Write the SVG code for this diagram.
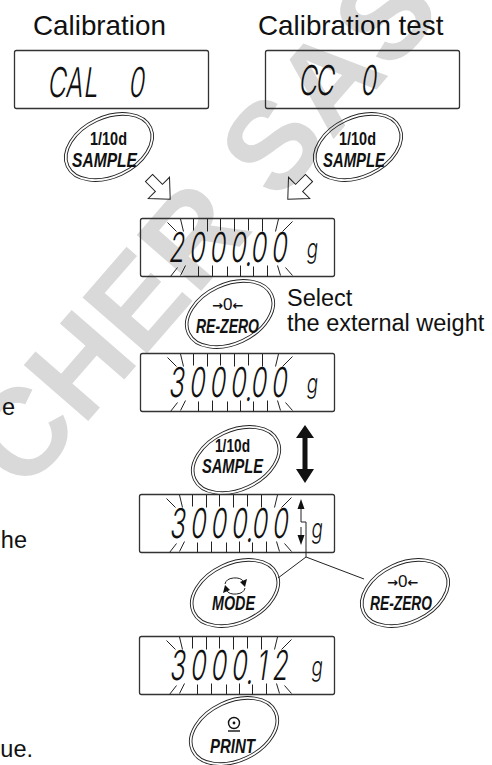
<svg xmlns="http://www.w3.org/2000/svg" xmlns:xlink="http://www.w3.org/1999/xlink" width="492" height="765" viewBox="0 0 492 765">
<style>
.wm{font-family:"Liberation Sans",Arial,sans-serif;font-weight:bold;font-size:124px;fill:#d9d9d9}
.title{font-family:"Liberation Sans",Arial,sans-serif;font-size:27.8px;fill:#111}
.body{font-family:"Liberation Sans",Arial,sans-serif;font-size:23.5px;fill:#111}
.box{fill:none;stroke:#333;stroke-width:1.3}
.ell{fill:none;stroke:#222;stroke-width:0.9}
.tick{stroke:#222;stroke-width:1;fill:none}
.seg{font-family:Inter,"DejaVu Sans",sans-serif;font-weight:350;font-size:41px;fill:#111}
.segg{font-family:Inter,"DejaVu Sans",sans-serif;font-weight:350;font-size:27px;fill:#111}
.lbl{font-family:"Liberation Sans",Arial,sans-serif;font-weight:bold;font-size:18.5px;fill:#111}
.lbli{font-family:"Liberation Sans",Arial,sans-serif;font-weight:bold;font-style:italic;font-size:21px;fill:#111}
.arr{font-family:"DejaVu Sans",sans-serif;font-weight:bold;font-size:13px;fill:#111}
.zero{font-family:"Liberation Sans",Arial,sans-serif;font-size:17px;fill:#111}
.hollow{fill:none;stroke:#222;stroke-width:1}
.conn{fill:none;stroke:#222;stroke-width:1}
</style>
<defs>
<g id="ticks" class="tick">
<path d="M27,4L36,13M40,0.5L43,13M53,0.5V12M67,0.5V13M80,0.5V12M94,0.5V13M108,0.5V12M122,0.5V13M138,0.5L135,13M152,3L142,13"/>
<path d="M30,58L37,49M40,57L45,47M58,48V58M72,47V58M87,48V58M100,47V58M113,48V58M127,47V58M137,47L140,57M145,49L152,57"/>
</g>
<g id="btn">
<ellipse class="ell" rx="47" ry="31"/>
<ellipse class="ell" rx="44.3" ry="28.3"/>
</g>
<polygon id="harrow" class="hollow" points="0,-5 14,-5 14,-15 30,0 14,15 14,5 0,5"/>
</defs>

<text class="wm" transform="translate(24.1,494.9) rotate(-49)">CHER SAS</text>

<text class="title" x="33" y="35">Calibration</text>
<text class="title" x="258" y="35">Calibration test</text>

<g id="disp1">
<rect class="box" x="14.5" y="50.5" width="194" height="58" rx="2"/>
<text class="seg" transform="translate(0,97) skewX(-8) scale(0.62,1)" x="75.8 104.8 133.9 170 206.5">CAL 0</text>
</g>
<g id="disp2">
<rect class="box" x="265.5" y="50.5" width="194" height="58" rx="2"/>
<text class="seg" transform="translate(0,95) skewX(-8) scale(0.62,1)" x="480.6 508 545 580.6">CC 0</text>
</g>

<g id="btn1">
<use xlink:href="#btn" transform="translate(109,147) rotate(-25)"/>
<text class="lbl" x="90" y="145" textLength="37" lengthAdjust="spacingAndGlyphs">1/10d</text>
<text class="lbli" x="72" y="167" textLength="65" lengthAdjust="spacingAndGlyphs">SAMPLE</text>
</g>
<g id="btn2">
<use xlink:href="#btn" transform="translate(358,147) rotate(-25)"/>
<text class="lbl" x="339" y="145" textLength="37" lengthAdjust="spacingAndGlyphs">1/10d</text>
<text class="lbli" x="323" y="167" textLength="62" lengthAdjust="spacingAndGlyphs">SAMPLE</text>
</g>

<g id="disp3">
<rect class="box" x="140.5" y="218.5" width="194" height="58" rx="2"/>
<use xlink:href="#ticks" transform="translate(140.5,218.5)"/>
<text class="seg" transform="translate(0,262) skewX(-8) scale(0.62,1)" x="271 304 337.1 370.2 395.2 403.2 436.3" dy="0 0 0 0 4 -4 0">2000.00</text>
<text class="segg" transform="translate(0,258) skewX(-6) scale(0.7,1)" x="437">g</text>
</g>

<g id="btn3">
<use xlink:href="#btn" transform="translate(230,314) rotate(-25)"/>
<text x="212" y="310"><tspan class="arr">→</tspan><tspan class="zero">0</tspan><tspan class="arr">←</tspan></text>
<text class="lbli" x="196" y="333" textLength="63" lengthAdjust="spacingAndGlyphs">RE-ZERO</text>
</g>
<text class="body" x="287" y="306">Select</text>
<text class="body" x="287" y="331">the external weight</text>

<g id="disp4">
<rect class="box" x="140.5" y="353.5" width="194" height="58" rx="2"/>
<use xlink:href="#ticks" transform="translate(140.5,353.5)"/>
<text class="seg" transform="translate(0,397) skewX(-8) scale(0.62,1)" x="271 304 337.1 370.2 395.2 403.2 436.3" dy="0 0 0 0 4 -4 0">3000.00</text>
<text class="segg" transform="translate(0,393) skewX(-6) scale(0.7,1)" x="437">g</text>
</g>

<g id="btn4">
<use xlink:href="#btn" transform="translate(236,460) rotate(-25)"/>
<text class="lbl" x="215" y="452" textLength="35" lengthAdjust="spacingAndGlyphs">1/10d</text>
<text class="lbli" x="202" y="473" textLength="61" lengthAdjust="spacingAndGlyphs">SAMPLE</text>
</g>

<g id="disp5">
<rect class="box" x="139.5" y="494.5" width="195" height="58" rx="2"/>
<use xlink:href="#ticks" transform="translate(139.5,494.5)"/>
<text class="seg" transform="translate(0,538) skewX(-8) scale(0.62,1)" x="272.6 305.6 338.7 371.8 396.8 404.8 437.9" dy="0 0 0 0 4 -4 0">3000.00</text>
<text class="segg" transform="translate(0,538) skewX(-6) scale(0.7,1)" x="444">g</text>
</g>

<g id="btn5">
<use xlink:href="#btn" transform="translate(235,593) rotate(-25)"/>
<path class="conn" stroke-width="1.3" d="M225,584 A10,7 0 0 1 244,582"/>
<path d="M247,579 L245,587 L240,582 Z" fill="#111"/>
<path class="conn" stroke-width="1.3" d="M245,588 A10,7 0 0 1 226,590"/>
<path d="M223,593 L225,585 L230,590 Z" fill="#111"/>
<text class="lbli" x="212" y="610" textLength="43" lengthAdjust="spacingAndGlyphs">MODE</text>
</g>

<g id="btn6">
<use xlink:href="#btn" transform="translate(405,593) rotate(-25)"/>
<text x="387" y="587"><tspan class="arr">→</tspan><tspan class="zero">0</tspan><tspan class="arr">←</tspan></text>
<text class="lbli" x="370" y="610" textLength="62" lengthAdjust="spacingAndGlyphs">RE-ZERO</text>
</g>

<g id="disp6">
<rect class="box" x="139.5" y="636.5" width="195" height="58" rx="2"/>
<use xlink:href="#ticks" transform="translate(139.5,636.5)"/>
<text class="seg" transform="translate(0,680) skewX(-8) scale(0.62,1)" x="272.6 305.6 338.7 371.8 396.8 412.9 437.9" dy="0 0 0 0 4 -4 0">3000.12</text>
<text class="segg" transform="translate(0,676) skewX(-6) scale(0.7,1)" x="444">g</text>
</g>

<g id="btn7">
<use xlink:href="#btn" transform="translate(234,731) rotate(-25)"/>
<circle cx="234" cy="723" r="5.5" fill="none" stroke="#111" stroke-width="1.4"/>
<circle cx="234" cy="723" r="1.4" fill="#111"/>
<line x1="228" y1="731" x2="240" y2="731" stroke="#111" stroke-width="1.4"/>
<text class="lbli" x="210" y="753" textLength="45" lengthAdjust="spacingAndGlyphs">PRINT</text>
</g>

<text class="body" x="15" y="415" text-anchor="end">e</text>
<text class="body" x="27" y="548" text-anchor="end">he</text>
<text class="body" x="33" y="757" text-anchor="end">ue.</text>

<g id="connectors">
<use xlink:href="#harrow" transform="translate(149,178) rotate(45)"/>
<use xlink:href="#harrow" transform="translate(309,178) rotate(135)"/>
<polygon points="305,425 314,438 307.5,438 307.5,469 314,469 305,483 296,469 302.5,469 302.5,438 296,438" fill="#111"/>
<polygon points="301,499 304.5,509 297.5,509" fill="#111"/>
<polyline class="conn" points="301,509 301,522 306,522 306,557"/>
<line class="conn" x1="301" y1="527" x2="301" y2="535"/>
<polygon points="301,545 304.5,535 297.5,535" fill="#111"/>
<line class="conn" x1="306" y1="557" x2="278" y2="578"/>
<line class="conn" x1="306" y1="557" x2="364" y2="579"/>
</g>
</svg>
